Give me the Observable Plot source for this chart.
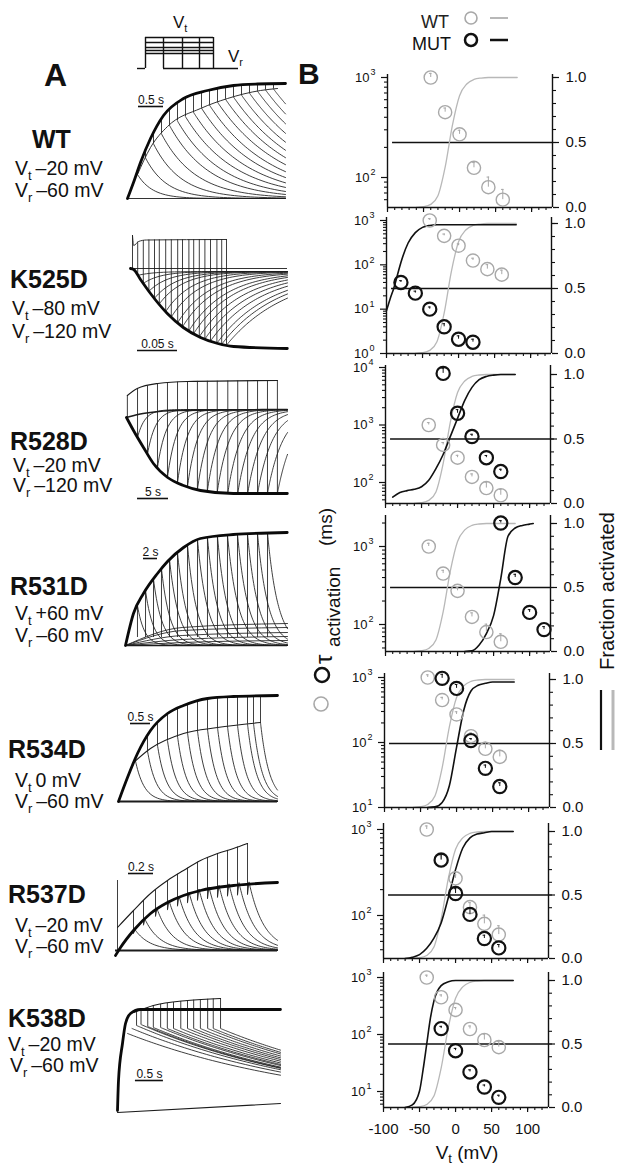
<!DOCTYPE html>
<html><head><meta charset="utf-8">
<script src="https://cdn.jsdelivr.net/npm/d3@7"></script>
<script src="https://cdn.jsdelivr.net/npm/@observablehq/plot@0.6"></script>
<style>
html,body{margin:0;padding:0;background:#fff;}
#root{position:relative;width:617px;height:1168px;overflow:hidden;background:#fff;font-family:"Liberation Sans",Arial,sans-serif;}
#root svg{position:absolute;overflow:visible;}
</style></head><body><div id="root"></div>
<script>
// ================= DATA: panel B =================
const wtV   = [-40, -20, 0, 20, 40, 60];
const wtTau = [1000, 450, 270, 125, 80, 60];
const wtErr = [100, 45, 27, 16, 21, 16];
const wtFracV = [-60,-50,-40,-30,-20,-10,0,10,20,30,40,50,60,70,80];
const wtFrac  = [0.001,0.006,0.024,0.09,0.31,0.63,0.86,0.95,0.985,0.996,1,1,1,1,1];

const k525V = [-80,-60,-40,-20,0,20];
const k525Tau = [40,23,10,4,2.1,1.8];
const k525Err = [4,2.5,1.2,0.7,0.4,0.3];
const k525FracV = [-100,-95,-90,-85,-80,-70,-60,-50,-40,-30,-20,0,20,40,60,80];
const k525Frac  = [0.33,0.42,0.5,0.6,0.7,0.85,0.93,0.97,0.985,0.99,0.99,0.99,0.99,0.99,0.99,0.99];

const r528V = [-20,0,20,40,60];
const r528Tau = [7900,1600,630,270,155];
const r528Err = [1800,250,60,25,15];
const r528FracV = [-90,-80,-70,-60,-50,-40,-30,-20,-10,0,10,20,30,40,50,60,70,80];
const r528Frac  = [0.05,0.085,0.1,0.11,0.13,0.18,0.27,0.38,0.52,0.66,0.8,0.9,0.96,0.985,0.995,1,1,1];

const r531V = [60,80,100,120];
const r531Tau = [2000,400,143,86];
const r531Err = [150,40,12,8];
const r531FracV = [10,20,30,40,50,60,70,80,90,100,105];
const r531Frac  = [0,0.005,0.05,0.14,0.28,0.57,0.9,0.965,0.985,0.995,1];

const r534V = [-20,0,20,40,60];
const r534Tau = [970,680,107,40,21];
const r534Err = [150,100,8,5,3];
const r534FracV = [-40,-30,-20,-10,0,10,20,30,40,50,60,70,80];
const r534Frac  = [0,0.005,0.04,0.17,0.47,0.76,0.91,0.955,0.97,0.98,0.98,0.98,0.98];

const r537V = [-20,0,20,40,60];
const r537Tau = [440,180,103,54,42];
const r537Err = [80,25,18,5,4];
const r537FracV = [-70,-60,-50,-40,-30,-20,-10,0,10,20,30,40,50,60,70,80];
const r537Frac  = [0,0.01,0.03,0.08,0.16,0.28,0.48,0.7,0.87,0.95,0.98,0.99,1,1,1,1];

const k538V = [-20,0,20,40,60];
const k538Tau = [127,52,22,12,7.9];
const k538Err = [12,5,2,1,0.7];
const k538FracV = [-70,-60,-50,-45,-40,-35,-30,-20,-10,0,20,40,60,80];
const k538Frac  = [0,0.02,0.13,0.3,0.5,0.7,0.84,0.96,0.99,1,1,1,1,1];

const xTicksMajor = [-100,-50,0,50,100];
const xTicksMinor = [-100,-90,-80,-70,-60,-50,-40,-30,-20,-10,0,10,20,30,40,50,60,70,80,90,100,110,120];
const fracTicksMajor = [0, 0.5, 1];
const fracTicksMinor = [0,0.1,0.2,0.3,0.4,0.5,0.6,0.7,0.8,0.9,1];

// ================= DATA: panel A (current traces, time s, current a.u.) =================
const protoLevels = [31, 26, 21, 18, 15];
const protoEnds = [26, 45, 62, 76];
const protoOn = 8, protoSweep = 101;

// WT
const wtEnvT = [0,0.12,0.26,0.46,0.72,1.12,1.6,2.12,2.6,3.16];
const wtEnvI = [0,0.16,0.36,0.6,0.83,1.0,1.08,1.13,1.145,1.15];
const wtOnT = [0.2,0.46,0.8,1.46,2.0,2.66,3.0];
const wtOnI = [0.24,0.51,0.72,0.9,1.0,1.08,1.1];
const wtT0 = [0.2,0.36,0.52,0.68,0.84,1.0,1.16,1.32,1.48,1.64,1.8,1.96,2.12,2.28,2.44,2.6,2.76,2.92];
const wtTailTau = [0.3,0.42,0.55,0.68,0.8,0.9,1.0,1.08,1.15,1.22,1.3,1.35,1.4,1.45,1.5,1.55,1.6,1.65];
const wtBar = [0.22, 0.72, 0.92, "0.5 s"];
// K525D
const k525EnvT = [0,0.004,0.0125,0.025,0.046,0.066,0.0875,0.109,0.129,0.196];
const k525EnvI = [0,-0.01,-0.11,-0.25,-0.45,-0.59,-0.69,-0.75,-0.78,-0.8];
const k525TopT = [0.0025,0.004,0.01,0.02,0.12];
const k525TopI = [0.33,0.23,0.27,0.285,0.29];
const k525Onset = [0.0025, 0, 0.33];
const k525T0 = [0.009,0.016,0.023,0.03,0.036,0.044,0.051,0.059,0.065,0.073,0.079,0.086,0.093,0.1,0.108,0.114,0.12];
const k525TailTau = [0.02,0.022,0.025,0.028,0.03,0.033,0.036,0.04,0.043,0.047,0.05,0.054,0.058,0.062,0.066,0.07,0.075];
const k525Bar = [0.00875, 0.05875, -0.82, "0.05 s"];
// R528D
const r528EnvT = [0.16,1.29,2.9,4.5,6.8,9.35,12.1,17.4,26.1];
const r528EnvI = [-0.08,-0.21,-0.38,-0.54,-0.68,-0.76,-0.81,-0.84,-0.84];
const r528TopT = [0.3,1.9,5.2,10,24.5];
const r528TopI = [0.14,0.21,0.26,0.28,0.29];
const r528BandT = [0.16,2,4,8,26.1];
const r528BandI = [-0.08,-0.05,-0.03,-0.01,0];
const r528Onset = [0.3, -0.08, 0.14];
const r528T0 = [1.94,3.55,5.16,6.77,8.39,10.0,11.6,13.2,14.8,16.5,18.1,19.7,21.3,22.9,24.5];
const r528TailTau = [1.2,1.3,1.4,1.5,1.6,1.7,1.8,1.9,2.0,2.1,2.2,2.3,2.4,2.5,2.6];
const r528Bar = [1.94, 6.94, -0.89, "5 s"];
// R531D
const r531EnvT = [0,1.14,2.57,4.57,6,8.29,10.7,15.4,23.1];
const r531EnvI = [0,0.32,0.52,0.72,0.84,0.98,1.07,1.11,1.13];
const r531T0 = [1.71,2.86,4.0,5.14,6.29,7.43,8.86,10.29,11.71,13.14,14.57,16.0,17.43,18.86,20.29];
const r531TailTau = [1.0,1.1,1.2,1.2,1.3,1.3,1.3,1.4,1.4,1.4,1.5,1.5,1.5,1.5,1.5];
const r531DropTo = 0.08;
const r531FanMid = [0.03,0.06,0.1,0.15,0.18];
const r531FanEnd = [0.05,0.09,0.13,0.18,0.22];
const r531Bar = [2.57, 4.57, 0.87, "2 s"];
// R534D
const r534EnvT = [0,0.225,0.475,0.8,1.225,1.625,2.225,2.875,3.975];
const r534EnvI = [0,0.24,0.48,0.71,0.88,0.96,1.03,1.05,1.06];
const r534OnT = [0.35,0.8,1.625,2.475,3.55];
const r534OnI = [0.38,0.53,0.68,0.74,0.79];
const r534T0 = [0.425,0.725,0.975,1.225,1.475,1.725,1.975,2.225,2.475,2.725,2.975,3.225,3.375,3.55];
const r534TailTau = 0.22;
const r534Bar = [0.3, 0.8, 0.78, "0.5 s"];
// R537D
const r537UpT = [0.016,0.144,0.28,0.416,0.544,0.68,0.816,0.944,1.056];
const r537UpI = [0.23,0.4,0.57,0.7,0.8,0.9,0.97,1.02,1.07];
const r537EnvT = [0,0.04,0.144,0.28,0.416,0.544,0.68,0.944,1.296];
const r537EnvI = [-0.05,0.03,0.2,0.37,0.48,0.55,0.6,0.65,0.68];
const r537Spike = [0.016, 0, 0.7];
const r537T0 = [0.144,0.224,0.32,0.416,0.496,0.576,0.656,0.736,0.816,0.896,0.976,1.056];
const r537TailTau = 0.12;
const r537Bar = [0.104, 0.304, 0.77, "0.2 s"];
// K538D
const k538EnvT = [0,0.018,0.089,0.143,0.232,0.41,2.91];
const k538EnvI = [0,0.3,0.67,0.87,0.97,1.01,1.01];
const k538UpT = [0.29,0.64,1.25,1.84];
const k538UpI = [0.98,1.05,1.1,1.12];
const k538T0 = [0.18,0.26,0.34,0.42,0.54,0.64,0.77,0.89,1.0,1.13,1.25,1.36,1.48,1.61,1.71,1.84];
const k538TailA = [0.77,0.82,0.85,0.86,0.84,0.83,0.83,0.82,0.82,0.82,0.82,0.82,0.82,0.82,0.82,0.82];
const k538TailTau = 3.5;
const k538BaseT = [0, 2.91];
const k538BaseI = [-0.02, 0.07];
const k538Bar = [0.32, 0.82, 0.3, "0.5 s"];

// ================= LAYOUT =================
const bTop   = [74,217,365,515,673,823,972];
const bBot   = [207,353,503,651,807,958,1107];
const bAxisX = [387,386,385,385,384,383,383];
const bDec   = [[1000,77,100,177],[1000,220,1,353],[10000,367,100,482],[1000,546,100,624],[1000,677,10,807],[1000,829,100,915],[1000,977,10,1091]];
const bOne   = [77,223,374,523,679,831,980];

const aGeo = {
  wt:   {L:127, R:285, base:198,  pps:50,  hi:1.22, lo:-0.05},
  k525: {L:130, R:287, base:268,  pps:800, hi:0.37, lo:-0.86},
  r528: {L:125, R:287, base:409,  pps:6.2, hi:0.31, lo:-0.9},
  r531: {L:125, R:287, base:645,  pps:7,   hi:1.16, lo:-0.05},
  r534: {L:118, R:277, base:801,  pps:40,  hi:1.1,  lo:-0.06},
  r537: {L:115, R:277, base:950,  pps:125, hi:1.12, lo:-0.1},
  k538: {L:117, R:280, base:1110, pps:56,  hi:1.15, lo:-0.05}
};

const FONT = '"Liberation Sans", Arial, sans-serif';
const root = document.getElementById("root");
function put(el, left, top){ el.style.position="absolute"; el.style.left=left+"px"; el.style.top=top+"px"; el.style.overflow="visible"; el.style.maxWidth="none"; root.appendChild(el); }

// ---------- Panel B ----------
const rowsB = (V, tau, err) => V.map((v,k)=>({V:v, tau:tau[k], err:err[k]}));
const rowsF = (V, f) => V.map((v,k)=>({V:v, f:f[k]}));
const GRAY_C = "#a8a8a8", GRAY_L = "#b8b8b8", BLK = "#111";

function circleMarks(rows, color, sw){
  return [
    Plot.ruleX(rows, {x:"V", y1:"tau", y2:d=>d.tau+d.err, stroke:color, strokeWidth:1}),
    Plot.ruleY(rows, {y:d=>d.tau+d.err, x1:d=>d.V-1.8, x2:d=>d.V+1.8, stroke:color, strokeWidth:1}),
    Plot.dot(rows, {x:"V", y:"tau", r:6.6, stroke:color, strokeWidth:sw, fill:"none"})
  ];
}

function bPanel(i, mut, isLast){
  const L = bAxisX[i], R = L + 165, top = bTop[i], bot = bBot[i];
  const [v1,y1,v2,y2] = bDec[i];
  const ppd = (y2-y1)/(Math.log10(v1)-Math.log10(v2));
  const hi = 10 ** (Math.log10(v1) + (y1-top)/ppd);
  const lo = 10 ** (Math.log10(v2) - (bot-y2)/ppd);
  const fHi = (bot-top)/(bot-bOne[i]);
  const mT = 12, mB = 45;
  const common = {width:617, height:bot-top+mT+mB, marginLeft:L, marginRight:617-R, marginTop:mT, marginBottom:mB,
    style:{background:"transparent", overflow:"visible", fontFamily:FONT, color:"#111"}};
  const xs = {domain:[-100,129], label:null};
  const wtF = rowsF(wtFracV, wtFrac);
  const fracPlot = Plot.plot({...common, x:{...xs, axis:null}, y:{domain:[0,fHi], label:null, axis:null}, marks:[
    Plot.ruleX([129], {stroke:BLK, strokeWidth:1.4}),
    Plot.axisY({anchor:"right", ticks:fracTicksMinor, tickSize:3, tickFormat:()=>"", strokeWidth:1.1}),
    Plot.axisY({anchor:"right", ticks:fracTicksMajor, tickSize:6, tickPadding:7, tickFormat:d=>d.toFixed(1), fontSize:15, strokeWidth:1.2}),
    Plot.ruleY([0.5], {x1:-93, x2:129, stroke:BLK, strokeWidth:1.3}),
    Plot.line(wtF, {x:"V", y:"f", stroke:GRAY_L, strokeWidth:1.3, curve:"monotone-x"}),
    mut ? Plot.line(rowsF(mut.fV, mut.f), {x:"V", y:"f", stroke:BLK, strokeWidth:1.6, curve:"monotone-x"}) : null
  ]});
  put(fracPlot, 0, top-mT);

  const majors = [1,10,100,1000,10000].filter(d => d>=lo*0.999 && d<=hi*1.001);
  const minors = [];
  for (let e=-1;e<=4;e++) for (let k=2;k<=9;k++){ const v=k*10**e; if (v>=lo && v<=hi) minors.push(v); }
  const tauPlot = Plot.plot({...common, x:xs, y:{type:"log", domain:[lo,hi], label:null}, marks:[
    Plot.ruleX([-100], {stroke:BLK, strokeWidth:1.4}),
    Plot.ruleY([lo], {stroke:BLK, strokeWidth:1.4}),
    Plot.axisY({anchor:"left", ticks:minors, tickSize:3, tickFormat:()=>"", strokeWidth:1.1}),
    Plot.axisY({anchor:"left", ticks:majors, tickSize:6, tickFormat:()=>"", strokeWidth:1.2}),
    Plot.text(majors, {x:-100, y:d=>d, text:()=>"10", dx:-18, textAnchor:"end", fontSize:13}),
    Plot.text(majors, {x:-100, y:d=>d, text:d=>String(Math.round(Math.log10(d))), dx:-17, dy:-5, textAnchor:"start", fontSize:9}),
    Plot.axisX({anchor:"bottom", ticks:xTicksMinor, tickSize:3, tickFormat:()=>"", strokeWidth:1.1}),
    Plot.axisX({anchor:"bottom", ticks:xTicksMajor, tickSize:5, tickPadding:11, tickFormat: isLast ? (d=>String(d)) : (()=>""), fontSize:15, strokeWidth:1.2}),
    ...circleMarks(rowsB(wtV, wtTau, wtErr), GRAY_C, 1.4),
    ...(mut ? circleMarks(rowsB(mut.V, mut.tau, mut.err), BLK, 2.2) : [])
  ]});
  put(tauPlot, 0, top-mT);
}

bPanel(0, null, false);
bPanel(1, {V:k525V, tau:k525Tau, err:k525Err, fV:k525FracV, f:k525Frac}, false);
bPanel(2, {V:r528V, tau:r528Tau, err:r528Err, fV:r528FracV, f:r528Frac}, false);
bPanel(3, {V:r531V, tau:r531Tau, err:r531Err, fV:r531FracV, f:r531Frac}, false);
bPanel(4, {V:r534V, tau:r534Tau, err:r534Err, fV:r534FracV, f:r534Frac}, false);
bPanel(5, {V:r537V, tau:r537Tau, err:r537Err, fV:r537FracV, f:r537Frac}, false);
bPanel(6, {V:k538V, tau:k538Tau, err:k538Err, fV:k538FracV, f:k538Frac}, true);

// ---------- Panel A ----------
const lerp = (ts, is) => d3.scaleLinear().domain(ts).range(is).clamp(true);
const rowsT = (ts, is) => ts.map((t,k)=>({t, I:is[k]}));
function decay(id, t0, a0, tau, asym, T){
  const out = []; const n = 48;
  for (let k=0;k<=n;k++){ const t = t0 + (T-t0)*Math.pow(k/n,1.7); out.push({id, t, I: asym + (a0-asym)*Math.exp(-(t-t0)/tau)}); }
  return out;
}
const TR = "#1c1c1c";
const thickLine = r => Plot.line(r, {x:"t", y:"I", stroke:"#0a0a0a", strokeWidth:2.8, curve:"monotone-x"});
const thinLine = (r, w=0.9) => Plot.line(r, {x:"t", y:"I", stroke:TR, strokeWidth:w, curve:"monotone-x"});
const tailLines = r => Plot.line(r, {x:"t", y:"I", z:"id", stroke:TR, strokeWidth:0.85});
const verts = r => Plot.ruleX(r, {x:"t", y1:"a", y2:"b", stroke:TR, strokeWidth:0.85});
const zeroLine = (w=0.9) => Plot.ruleY([0], {stroke:TR, strokeWidth:w});
const scaleBar = b => { const d={t1:b[0], t2:b[1], I:b[2], label:b[3]}; return [
  Plot.ruleY([d], {x1:"t1", x2:"t2", y:"I", stroke:"#111", strokeWidth:1.6}),
  Plot.text([d], {x:e=>(e.t1+e.t2)/2, y:"I", text:"label", dy:-3, lineAnchor:"bottom", fontSize:12, fill:"#111"})
];};

function aPanel(g, makeMarks){
  const T = (g.R-g.L)/g.pps, p = 4;
  const svg = Plot.plot({width:g.R-g.L+2*p, height:(g.hi-g.lo)*100+2*p, marginLeft:p, marginRight:p, marginTop:p, marginBottom:p,
    x:{domain:[0,T], axis:null}, y:{domain:[g.lo,g.hi], axis:null},
    style:{background:"transparent", overflow:"visible", fontFamily:FONT},
    marks: makeMarks(T)});
  put(svg, g.L-p, g.base - g.hi*100 - p);
}

// protocol
(function(){
  const maxL = d3.max(protoLevels);
  const segs = [
    {x1:0, x2:protoOn, y:0},
    ...protoLevels.map(l=>({x1:protoOn, x2:protoEnds[protoEnds.length-1], y:l})),
    {x1:protoEnds[0], x2:protoSweep, y:0}
  ];
  const vs = [{x:protoOn, y1:0, y2:maxL}, ...protoEnds.map(e=>({x:e, y1:0, y2:maxL}))];
  const p = 3;
  const svg = Plot.plot({width:protoSweep+2*p, height:maxL+2*p, margin:p,
    x:{domain:[0,protoSweep], axis:null}, y:{domain:[0,maxL], axis:null},
    style:{background:"transparent", overflow:"visible"},
    marks:[
      Plot.ruleY(segs, {x1:"x1", x2:"x2", y:"y", stroke:"#111", strokeWidth:1.4}),
      Plot.ruleX(vs, {x:"x", y1:"y1", y2:"y2", stroke:"#111", strokeWidth:1.4})
    ]});
  put(svg, 137-p, 37-p);
})();

// WT
aPanel(aGeo.wt, T => {
  const env = lerp(wtEnvT, wtEnvI), on = lerp(wtOnT, wtOnI);
  const tl = wtT0.flatMap((t0,k)=>decay(k, t0, on(t0), wtTailTau[k], 0, T));
  const vs = wtT0.map(t0=>({t:t0, a:env(t0), b:on(t0)}));
  return [zeroLine(), tailLines(tl), verts(vs), thinLine(rowsT(wtOnT, wtOnI)), thickLine(rowsT(wtEnvT, wtEnvI)), ...scaleBar(wtBar)];
});
// K525D
aPanel(aGeo.k525, T => {
  const env = lerp(k525EnvT, k525EnvI), top = lerp(k525TopT, k525TopI);
  const tl = k525T0.flatMap((t0,k)=>decay(k, t0, env(t0), k525TailTau[k], -0.03, T));
  const vs = [{t:k525Onset[0], a:k525Onset[1], b:k525Onset[2]}, ...k525T0.map(t0=>({t:t0, a:top(t0), b:env(t0)}))];
  return [zeroLine(), tailLines(tl), verts(vs), thinLine(rowsT(k525TopT, k525TopI)), thickLine(rowsT(k525EnvT, k525EnvI)), ...scaleBar(k525Bar)];
});
// R528D
aPanel(aGeo.r528, T => {
  const env = lerp(r528EnvT, r528EnvI), top = lerp(r528TopT, r528TopI);
  const tl = r528T0.flatMap((t0,k)=>decay(k, t0, env(t0), r528TailTau[k], 0, T));
  const vs = [{t:r528Onset[0], a:r528Onset[1], b:r528Onset[2]}, ...r528T0.map(t0=>({t:t0, a:top(t0), b:env(t0)}))];
  return [tailLines(tl), verts(vs), thinLine(rowsT(r528BandT, r528BandI), 1.6), thinLine(rowsT(r528TopT, r528TopI), 1.1), thickLine(rowsT(r528EnvT, r528EnvI)), ...scaleBar(r528Bar)];
});
// R531D
aPanel(aGeo.r531, T => {
  const env = lerp(r531EnvT, r531EnvI);
  const tl = r531T0.flatMap((t0,k)=>decay(k, t0, env(t0), r531TailTau[k], 0, T));
  const vs = r531T0.map(t0=>({t:t0, a:env(t0), b:r531DropTo}));
  const fan = r531FanEnd.flatMap((e,k)=>[{id:k,t:0,I:0},{id:k,t:T*0.35,I:r531FanMid[k]},{id:k,t:T,I:e}]);
  return [zeroLine(1.4), Plot.line(fan, {x:"t", y:"I", z:"id", stroke:TR, strokeWidth:0.85, curve:"monotone-x"}), tailLines(tl), verts(vs), thickLine(rowsT(r531EnvT, r531EnvI)), ...scaleBar(r531Bar)];
});
// R534D
aPanel(aGeo.r534, T => {
  const env = lerp(r534EnvT, r534EnvI), on = lerp(r534OnT, r534OnI);
  const tl = r534T0.flatMap((t0,k)=>decay(k, t0, on(t0), r534TailTau, 0, T));
  const vs = r534T0.map(t0=>({t:t0, a:env(t0), b:on(t0)}));
  return [zeroLine(2), tailLines(tl), verts(vs), thinLine(rowsT(r534OnT, r534OnI), 1.1), thickLine(rowsT(r534EnvT, r534EnvI)), ...scaleBar(r534Bar)];
});
// R537D
aPanel(aGeo.r537, T => {
  const env = lerp(r537EnvT, r537EnvI), up = lerp(r537UpT, r537UpI);
  const tl = r537T0.flatMap((t0,k)=>[{id:k, t:t0, I:0.85*env(t0)}, ...decay(k, t0+0.012, 1.04*env(t0), r537TailTau, 0, T)]);
  const vs = [{t:r537Spike[0], a:r537Spike[1], b:r537Spike[2]}, ...r537T0.map(t0=>({t:t0, a:up(t0), b:0.85*env(t0)}))];
  return [zeroLine(2.2), tailLines(tl), verts(vs), thinLine(rowsT(r537UpT, r537UpI), 1.1), thickLine(rowsT(r537EnvT, r537EnvI)), ...scaleBar(r537Bar)];
});
// K538D
aPanel(aGeo.k538, T => {
  const up = lerp(k538UpT, k538UpI);
  const tl = k538T0.flatMap((t0,k)=>decay(k, t0, k538TailA[k], k538TailTau, 0, T));
  const vs = k538T0.map((t0,k)=>({t:t0, a:up(t0), b:k538TailA[k]})).filter(d=>d.t>=k538UpT[0]);
  return [thinLine(rowsT(k538BaseT, k538BaseI), 1.1), tailLines(tl), verts(vs), thinLine(rowsT(k538UpT, k538UpI), 1.1), thickLine(rowsT(k538EnvT, k538EnvI)), ...scaleBar(k538Bar)];
});

// ---------- Text overlay ----------
const vLab = (x,y,sub,rest) => `<text x="${x}" y="${y}" font-size="19.5">V<tspan dy="5" font-size="13">${sub}</tspan><tspan dy="-5">\u2009${rest}</tspan></text>`;
const bold = (x,y,s) => `<text x="${x}" y="${y}" font-size="25" font-weight="bold">${s}</text>`;
const aLabels = [
  ["WT",32,148, 15,175,"\u201320 mV", 15,197,"\u201360 mV"],
  ["K525D",10,288, 12,315,"\u201380 mV", 12,338,"\u2013120 mV"],
  ["R528D",10,450, 13,472,"\u201320 mV", 13,492,"\u2013120 mV"],
  ["R531D",10,595, 15,620,"+60 mV", 15,642,"\u201360 mV"],
  ["R534D",8,758, 15,787,"0 mV", 15,808,"\u201360 mV"],
  ["R537D",8,903, 15,932,"\u201320 mV", 15,953,"\u201360 mV"],
  ["K538D",8,1027, 8,1051,"\u201320 mV", 10,1072,"\u201360 mV"]
];
let txt = `<svg xmlns="http://www.w3.org/2000/svg" width="617" height="1168" style="left:0;top:0;pointer-events:none" font-family='${FONT}' fill="#111">`;
txt += `<text x="44" y="86" font-size="32" font-weight="bold">A</text>`;
txt += `<text x="298" y="84" font-size="30" font-weight="bold">B</text>`;
for (const a of aLabels){ txt += bold(a[1],a[2],a[0]) + vLab(a[3],a[4],"t",a[5]) + vLab(a[6],a[7],"r",a[8]); }
txt += `<text x="173" y="28" font-size="17">V<tspan dy="4" font-size="11">t</tspan></text>`;
txt += `<text x="228" y="62" font-size="17">V<tspan dy="4" font-size="11">r</tspan></text>`;
// legend top
txt += `<text x="449" y="28" font-size="18" text-anchor="end" fill="#222">WT</text>`;
txt += `<text x="451" y="50" font-size="18" text-anchor="end">MUT</text>`;
txt += `<circle cx="471" cy="18" r="6" fill="none" stroke="${GRAY_C}" stroke-width="1.6"/>`;
txt += `<circle cx="471" cy="40" r="6" fill="none" stroke="#111" stroke-width="2.5"/>`;
txt += `<line x1="490" x2="508" y1="18" y2="18" stroke="${GRAY_L}" stroke-width="2"/>`;
txt += `<line x1="490" x2="508" y1="40" y2="40" stroke="#111" stroke-width="2.5"/>`;
// left axis title
txt += `<text transform="translate(332,664) rotate(-90)" font-size="24">\u03c4</text>`;
txt += `<text transform="translate(340,647) rotate(-90)" font-size="19">activation</text>`;
txt += `<text transform="translate(332,546) rotate(-90)" font-size="19">(ms)</text>`;
txt += `<circle cx="322" cy="675" r="7" fill="none" stroke="#111" stroke-width="2.5"/>`;
txt += `<circle cx="321" cy="704" r="7" fill="none" stroke="${GRAY_C}" stroke-width="1.6"/>`;
// right axis title
txt += `<text transform="translate(614,670) rotate(-90)" font-size="20">Fraction activated</text>`;
txt += `<line x1="601" x2="601" y1="690" y2="750" stroke="#111" stroke-width="2.2"/>`;
txt += `<line x1="613" x2="613" y1="690" y2="750" stroke="${GRAY_L}" stroke-width="3"/>`;
// x axis title
txt += `<text x="467" y="1159" font-size="19" text-anchor="middle">V<tspan dy="4" font-size="13">t</tspan><tspan dy="-4"> (mV)</tspan></text>`;
txt += `</svg>`;
const holder = document.createElement("div");
holder.innerHTML = txt;
const tsvg = holder.firstChild;
tsvg.style.position="absolute"; tsvg.style.left="0px"; tsvg.style.top="0px";
root.appendChild(tsvg);
</script></body></html>
